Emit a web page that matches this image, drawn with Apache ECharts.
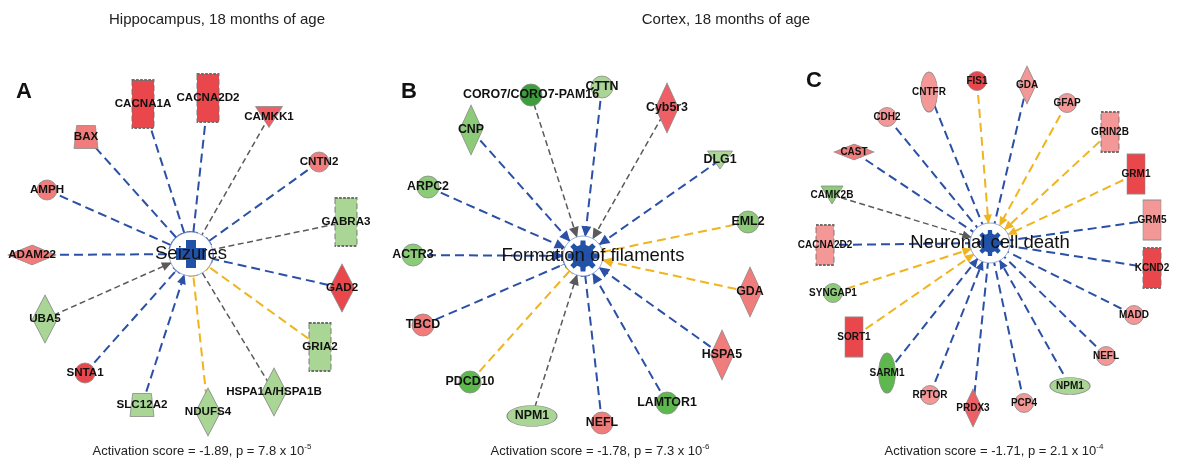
<!DOCTYPE html>
<html>
<head>
<meta charset="utf-8">
<script src="https://cdn.jsdelivr.net/npm/echarts@6/dist/echarts.min.js"></script>
<style>html,body{margin:0;padding:0;background:#fff}#c{width:1179px;height:463px}</style>
</head>
<body>
<div id="c"></div>
<script>
// ---------------- DATA ----------------
// Panel titles / captions
const panelTitles = ['Hippocampus, 18 months of age', 'Cortex, 18 months of age'];
const panelLetters = ['A', 'B', 'C'];
const hubLabels = ['Seizures', 'Formation of filaments', 'Neuronal cell death'];
const activationScores = ['-1.89', '-1.78', '-1.71'];
const pMantissa = ['7.8', '7.3', '2.1'];
const pExponent = ['-5', '-6', '-4'];
// hub (function) node positions, in picture units
const hubX = [191, 583, 990];
const hubY = [254, 256, 243];

// Panel A – Seizures (hippocampus)
const aNames = ['CACNA1A','CACNA2D2','CAMKK1','BAX','CNTN2','AMPH','GABRA3','ADAM22','GAD2','UBA5','GRIA2','SNTA1','HSPA1A/HSPA1B','SLC12A2','NDUFS4'];
const aX = [143, 208, 269, 86, 319, 47, 346, 32, 342, 45, 320, 85, 274, 142, 208];
const aY = [104, 98, 117, 137, 162, 190, 222, 255, 288, 319, 347, 373, 392, 405, 412];
const aType = ['ion','ion','kinase','transporter','other','other','ion','peptidase','enzyme','enzyme','ion','other','enzyme','transporter','enzyme'];
const aLevel = ['up3','up3','up2','up1','up1','up1','dn1','up1','up3','dn1','dn1','up3','dn1','dn1','dn1'];
const aRel = ['b','b','g','b','b','b','g','b','b','g','y','b','g','b','y'];
const aEnd = ['bar','bar','none','bar','bar','bar','none','none','bar','arrow','bar','bar','none','arrow','bar'];

// Panel B – Formation of filaments (cortex)
const bNames = ['CORO7/CORO7-PAM16','CTTN','Cyb5r3','CNP','DLG1','ARPC2','EML2','ACTR3','GDA','TBCD','HSPA5','PDCD10','LAMTOR1','NPM1','NEFL'];
const bX = [531, 602, 667, 471, 720, 428, 748, 413, 750, 423, 722, 470, 667, 532, 602];
const bY = [95, 87, 108, 130, 160, 187, 222, 255, 292, 325, 355, 382, 403, 416, 423];
const bType = ['other','other','enzyme','enzyme','kinase','other','other','other','enzyme','other','enzyme','other','other','transreg','other'];
const bLevel = ['dn4','dn1','up2','dn2','dn1','dn2','dn2','dn2','up1','up1','up1','dn3','dn3','dn1','up1'];
const bRel = ['g','b','g','b','b','b','y','b','y','b','b','y','b','g','b'];
const bEnd = ['arrow','arrow','arrow','arrow','arrow','arrow','bar','arrow','arrow','bar','arrow','bar','arrow','arrow','bar'];

// Panel C – Neuronal cell death (cortex)
const cNames = ['CDH2','CNTFR','FIS1','GDA','GFAP','GRIN2B','CAST','GRM1','CAMK2B','GRM5','CACNA2D2','KCND2','SYNGAP1','MADD','SORT1','NEFL','SARM1','RPTOR','PRDX3','PCP4','NPM1'];
const cX = [887, 929, 977, 1027, 1067, 1110, 854, 1136, 832, 1152, 825, 1152, 833, 1134, 854, 1106, 887, 930, 973, 1024, 1070];
const cY = [117, 92, 81, 85, 103, 132, 152, 174, 195, 220, 245, 268, 293, 315, 337, 356, 373, 395, 408, 403, 386];
const cType = ['other','receptor','other','enzyme','other','ion','peptidase','gpcr','kinase','gpcr','ion','ion','other','other','gpcr','other','receptor','other','enzyme','other','transreg'];
const cLevel = ['up0','up0','up3','up0','up0','up0','up1','up3','dn2','up0','up0','up3','dn2','up0','up3','up0','dn3','up0','up2','up0','dn1'];
const cRel = ['b','b','y','b','y','y','b','y','g','b','b','b','y','b','y','b','b','b','b','b','b'];
const cEnd = ['none','none','arrow','none','arrow','arrow','none','arrow','arrow','none','none','none','arrow','none','arrow','none','arrow','arrow','none','none','arrow'];

// ---------------- STYLE ----------------
const FONT = 'Liberation Sans, Arial, Helvetica, sans-serif';
const LEVEL_COLORS = {
  up3: '#ea474d', up2: '#ee6065', up1: '#f17c7c', up0: '#f39797',
  dn1: '#a9d694', dn2: '#8ccb77', dn3: '#5db84d', dn4: '#3c9e3c'
};
const REL_STYLE = {
  b: { color: '#2b50a6', width: 2, type: [9, 5] },
  g: { color: '#5a5a5a', width: 1.5, type: [6, 3.5] },
  y: { color: '#efb41e', width: 2, type: [9, 5] }
};
const ELLIPSE = 'path://M0,10 A10,10 0 1,1 20,10 A10,10 0 1,1 0,10 Z';
const SHAPES = {
  ion: 'rect', gpcr: 'rect', enzyme: 'diamond', peptidase: 'diamond',
  kinase: 'path://M0,0 L20,0 L10,16 Z',
  transporter: 'path://M2.2,0 L17.8,0 L20,20 L0,20 Z',
  other: 'circle', receptor: ELLIPSE, transreg: ELLIPSE
};
const SIZES_A = { ion: [22, 48], enzyme: [25, 48], peptidase: [48, 20], kinase: [27, 21], transporter: [24, 23], other: 20 };
const SIZES_B = { enzyme: [23, 50], kinase: [25, 18], other: 22, transreg: [50, 21] };
const SIZES_C = { ion: [18, 40], gpcr: [18, 40], enzyme: [18, 38], peptidase: [40, 16], kinase: [22, 18], other: 19, receptor: [17, 40], transreg: [40, 17] };

const ARROW = 'path://M9.6,0 L10.4,0 L10.4,10 L15,20 L5,20 L9.6,10 Z M0,20 L0.02,20 L0,19.98 Z M20,20 L19.98,20 L20,19.98 Z';
const TBAR = 'path://M9.5,0 L10.5,0 L10.5,8.5 L20,8.5 L20,11.5 L10.5,11.5 L10.5,20 L9.5,20 L9.5,11.5 L0,11.5 L0,8.5 L9.5,8.5 Z';
const CROSS = 'path://M10,0 L20,0 L20,8 L30,8 L30,20 L20,20 L20,28 L10,28 L10,20 L0,20 L0,8 L10,8 Z';

function gearPath(n, ro, ri) {
  const P = Math.PI * 2 / n;
  const pt = (r, a) => (ro + r * Math.sin(a)).toFixed(2) + ',' + (ro - r * Math.cos(a)).toFixed(2);
  let d = '';
  for (let i = 0; i < n; i++) {
    const a = i * P;
    d += (i === 0 ? 'M' : 'L') + pt(ri, a - 0.31 * P) + ' L' + pt(ro, a - 0.2 * P) + ' L' + pt(ro, a + 0.2 * P) + ' L' + pt(ri, a + 0.31 * P) + ' ';
  }
  return 'path://' + d + 'Z';
}
const GEAR = gearPath(8, 10, 7.3);

function buildSeries(p, names, xs, ys, types, levels, rels, ends, conf) {
  const data = names.map((nm, i) => {
    const t = types[i];
    const dashed = t === 'ion';
    return {
      name: nm,
      value: [xs[i], ys[i]],
      symbol: SHAPES[t],
      symbolSize: conf.sizes[t],
      itemStyle: {
        color: LEVEL_COLORS[levels[i]],
        borderColor: dashed ? '#6e6e6e' : '#8a8a8a',
        borderWidth: dashed ? 1.3 : 0.8,
        borderType: dashed ? [4, 2] : 'solid'
      }
    };
  });
  const n = data.length;
  data.push({
    name: '__ring' + p, value: [hubX[p], hubY[p]], symbol: 'circle', symbolSize: conf.ring,
    itemStyle: { color: '#ffffff', borderColor: '#7d97cf', borderWidth: 0.8 },
    label: { show: false }
  });
  data.push({
    name: hubLabels[p], value: [hubX[p], hubY[p]],
    symbol: conf.hub, symbolSize: conf.hubSize,
    itemStyle: { color: '#2152a8', borderWidth: 0 },
    label: { show: true, fontSize: 18.5, fontWeight: 'normal', color: '#111', offset: conf.hubOffset }
  });
  const links = names.map((nm, i) => {
    const e = ends[i];
    const sym = e === 'arrow' ? ARROW : (e === 'bar' ? TBAR : 'circle');
    const sz = e === 'arrow' ? conf.arrow : (e === 'bar' ? conf.bar : 0.1);
    const rs = REL_STYLE[rels[i]];
    return {
      source: i, target: n,
      symbol: ['none', sym], symbolSize: [1, sz],
      lineStyle: { color: rs.color, width: rs.width, type: rs.type, opacity: 1, curveness: 0 }
    };
  });
  return {
    type: 'graph', coordinateSystem: 'cartesian2d', layout: 'none',
    silent: true, animation: false,
    data: data, links: links,
    label: { show: true, position: 'inside', color: '#111', fontWeight: 'bold', fontFamily: FONT, fontSize: conf.font },
    lineStyle: { opacity: 1 },
    emphasis: { disabled: true }
  };
}

const series = [
  buildSeries(0, aNames, aX, aY, aType, aLevel, aRel, aEnd,
    { sizes: SIZES_A, font: 11.6, ring: 44, hub: CROSS, hubSize: [30, 28], hubOffset: [0, 0], arrow: 18, bar: 9 }),
  buildSeries(1, bNames, bX, bY, bType, bLevel, bRel, bEnd,
    { sizes: SIZES_B, font: 12.4, ring: 40, hub: GEAR, hubSize: 31, hubOffset: [10, 0], arrow: 20, bar: 9 }),
  buildSeries(2, cNames, cX, cY, cType, cLevel, cRel, cEnd,
    { sizes: SIZES_C, font: 10, ring: 40, hub: GEAR, hubSize: 26, hubOffset: [0, 0], arrow: 17, bar: 8 })
];

// text elements
const titleX = [217, 726], titleY = 20;
const letterX = [24, 409, 814], letterY = [92, 92, 81];
const capX = [202, 600, 994], capY = 451;
const graphic = [];
panelTitles.forEach((t, i) => graphic.push({
  type: 'text', x: titleX[i], y: titleY, silent: true,
  style: { text: t, fontSize: 15, fontFamily: FONT, fill: '#222', align: 'center', verticalAlign: 'middle' }
}));
panelLetters.forEach((t, i) => graphic.push({
  type: 'text', x: letterX[i], y: letterY[i], silent: true,
  style: { text: t, fontSize: 22, fontWeight: 'bold', fontFamily: FONT, fill: '#111', align: 'center', verticalAlign: 'middle' }
}));
activationScores.forEach((s, i) => graphic.push({
  type: 'text', x: capX[i], y: capY, silent: true,
  style: {
    text: '{m|Activation score = ' + s + ', p = ' + pMantissa[i] + ' x 10}{s|' + pExponent[i] + '}',
    align: 'center', verticalAlign: 'middle',
    rich: {
      m: { fontSize: 13, fontFamily: FONT, fill: '#222', lineHeight: 16 },
      s: { fontSize: 8, fontFamily: FONT, fill: '#222', lineHeight: 9, verticalAlign: 'top' }
    }
  }
}));

const chart = echarts.init(document.getElementById('c'), null, { renderer: 'canvas' });
chart.setOption({
  animation: false,
  backgroundColor: '#ffffff',
  grid: { left: 0, right: 0, top: 0, bottom: 0, containLabel: false },
  xAxis: { type: 'value', min: 0, max: 1179, show: false },
  yAxis: { type: 'value', min: 0, max: 463, inverse: true, show: false },
  graphic: graphic,
  series: series
});
</script>
</body>
</html>
